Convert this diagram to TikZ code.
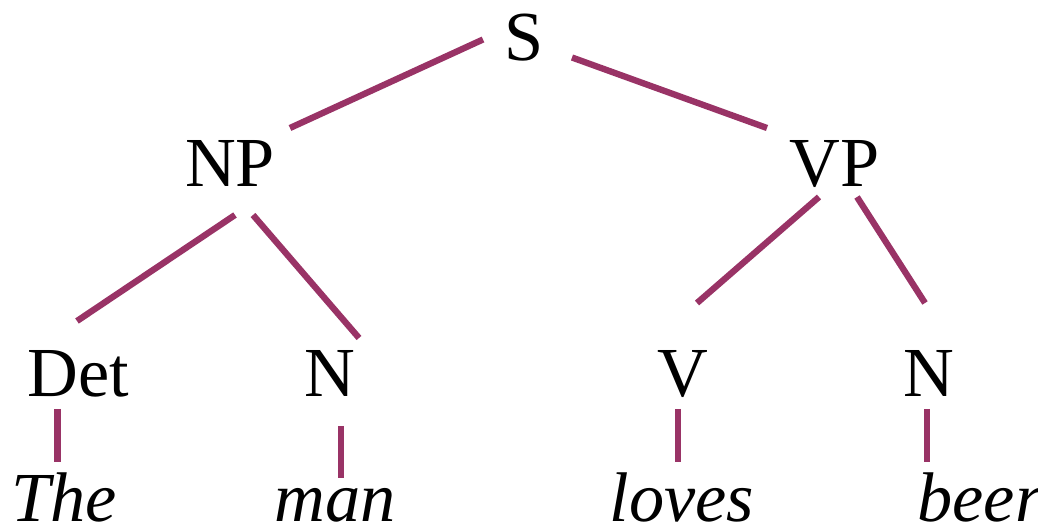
\documentclass[tikz,border=0pt]{standalone}
\usepackage{fontspec}
\setmainfont{Liberation Serif}
\usetikzlibrary{calc}
\definecolor{cBranch}{RGB}{153, 51, 102}
\tikzset{
    % --- 节点 ---
    cat/.style={
        anchor=base, inner sep=0pt,
        font=\fontsize{40}{48}\selectfont
    },
    word/.style={
        cat, font=\fontsize{40}{48}\selectfont\itshape
    },
    %
    % --- 连线 ---
    branch/.style={
        draw=cBranch, line width=3.6pt
    }
}
\begin{document}
\begin{tikzpicture}[x=0.02cm, y=-0.02cm]

	\useasboundingbox (0,0) rectangle (1038,526);

	% =========================================
	% 1. 节点
	% =========================================

	\node [cat] (s) at (524.5,60.5) {S};

	\node [cat] (np) at (230,187) {NP};
	\node [cat] (vp) at (834.5,187) {VP};

	\node [cat] (det) at (78,397) {Det};
	\node [cat] (n1) at (330,397) {N};
	\node [cat] (v) at (683,397) {V};
	\node [cat] (n2) at (929,397) {N};

	\node [word] (the) at (64,522) {The};
	\node [word] (man) at (335,522) {man};
	\node [word] (loves) at (682,522) {loves};
	\node [word] (beer) at (980,522) {beer};

	% =========================================
	% 2. 连线
	% =========================================

	\draw [branch] ($(s.base) + (-41.5,-21)$) -- ($(np.base) + (60,-59)$);
	\draw [branch] ($(s.base) + (47.5,-3)$) -- ($(vp.base) + (-67.5,-59)$);

	\draw [branch] ($(np.base) + (5,28)$) -- ($(det.base) + (-1,-76)$);
	\draw [branch] ($(np.base) + (23,28)$) -- ($(n1.base) + (29,-59)$);

	\draw [branch] ($(vp.base) + (-15.5,10)$) -- ($(v.base) + (14,-94)$);
	\draw [branch] ($(vp.base) + (22.5,10)$) -- ($(n2.base) + (-4,-94)$);

	\draw [branch] ($(det.base) + (-20.5,12)$) -- ($(the.base) + (-6.5,-60)$);
	\draw [branch] ($(n1.base) + (11,29)$) -- ($(man.base) + (6,-44)$);
	\draw [branch] ($(v.base) + (-5,12)$) -- ($(loves.base) + (-4,-60)$);
	\draw [branch] ($(n2.base) + (-2,12)$) -- ($(beer.base) + (-53,-60)$);

\end{tikzpicture}
\end{document}
